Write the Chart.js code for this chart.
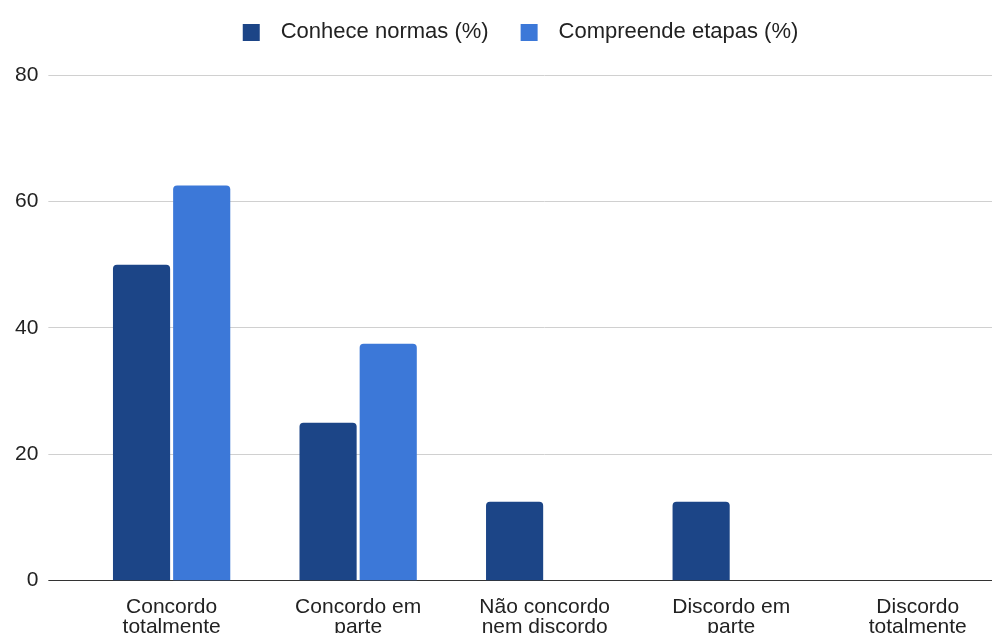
<!DOCTYPE html>
<html>
<head>
<meta charset="utf-8">
<script src="https://cdn.jsdelivr.net/npm/chart.js@4/dist/chart.umd.min.js"></script>
<style>
  html, body { margin: 0; padding: 0; background: #fff; overflow: hidden; }
  #wrap { width: 1054px; height: 645px; position: relative; }
</style>
</head>
<body>
<div id="wrap"><canvas id="myChart"></canvas></div>
<script>
const categories = [
  ['Concordo', 'totalmente'],
  ['Concordo em', 'parte'],
  ['Não concordo', 'nem discordo'],
  ['Discordo em', 'parte'],
  ['Discordo', 'totalmente']
];
const conheceNormas = [50, 25, 12.5, 12.5, 0];
const compreendeEtapas = [62.5, 37.5, 0, 0, 0];
const seriesNames = ['Conhece normas (%)', 'Compreende etapas (%)'];
const seriesColors = ['#1c4587', '#3c78d8'];
const yTicks = [0, 20, 40, 60, 80];

// legend swatch: square with a bit of empty space around it
function swatch(color) {
  let c = document.createElement('canvas');
  c.width = 38;
  c.height = 17;
  let g = c.getContext('2d');
  g.fillStyle = color;
  g.fillRect(11, 0, 17, 17);
  return c;
}
const swatches = seriesColors.map(swatch);

const font = "'Liberation Sans', Arial, sans-serif";

// more room between the legend and the plot, legend nudged right a bit
const legendGap = {
  id: 'legendGap',
  beforeInit(chart) {
    const fit = chart.legend.fit;
    chart.legend.fit = function() {
      fit.call(this);
      this.height += 22;
    };
  },
  afterLayout(chart) {
    chart.legend.left += 7;
    chart.legend.right += 7;
  }
};

let ctx = document.getElementById('myChart').getContext('2d');
let chart = new Chart(ctx, {
  type: 'bar',
  data: {
    labels: categories,
    datasets: [{
      label: seriesNames[0],
      backgroundColor: seriesColors[0],
      data: conheceNormas
    }, {
      label: seriesNames[1],
      backgroundColor: seriesColors[1],
      data: compreendeEtapas
    }]
  },
  plugins: [legendGap],
  options: {
    responsive: true,
    maintainAspectRatio: false,
    animation: false,
    layout: { padding: { left: 5, right: 43, top: 0, bottom: 0 } },
    datasets: {
      bar: {
        categoryPercentage: 0.645,
        barPercentage: 0.95,
        borderRadius: 4
      }
    },
    plugins: {
      tooltip: { enabled: false },
      legend: {
        position: 'top',
        labels: {
          usePointStyle: true,
          pointStyleWidth: 38,
          padding: 21,
          color: '#222',
          font: { family: font, size: 22 },
          generateLabels: chart =>
            Chart.defaults.plugins.legend.labels.generateLabels(chart)
              .map((item, i) => ({ ...item, pointStyle: swatches[i] }))
        }
      }
    },
    scales: {
      x: {
        grid: { display: false },
        border: { color: '#333', width: 1 },
        ticks: {
          color: '#222',
          maxRotation: 0,
          autoSkip: false,
          padding: 8,
          font: { family: font, size: 21, lineHeight: 0.96 }
        }
      },
      y: {
        min: 0,
        max: 80,
        afterBuildTicks: axis => { axis.ticks = yTicks.map(v => ({ value: v })); },
        border: { display: false },
        grid: {
          color: c => c.tick && c.tick.value === 0 ? '#333' : '#d0d0d0',
          tickColor: c => c.tick && c.tick.value === 0 ? '#333' : '#d0d0d0',
          tickLength: 30
        },
        ticks: {
          color: '#222',
          padding: 10,
          font: { family: font, size: 21 }
        }
      }
    }
  }
});
</script>
</body>
</html>
